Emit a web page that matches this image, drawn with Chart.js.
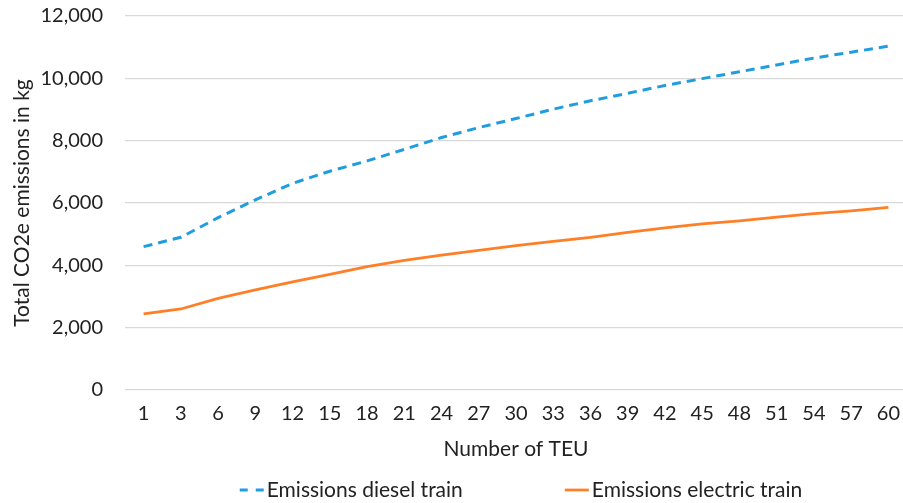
<!DOCTYPE html>
<html>
<head>
<meta charset="utf-8">
<script src="https://cdn.jsdelivr.net/npm/chart.js@4/dist/chart.umd.min.js"></script>
<style>
  html, body { margin: 0; padding: 0; background: #fff; overflow: hidden; }
  #wrap { width: 910px; height: 503px; }
</style>
</head>
<body>
<div id="wrap"><canvas id="c" width="910" height="503"></canvas></div>
<script>
// Number of TEU on the train
const teu = ['1','3','6','9','12','15','18','21','24','27','30','33','36','39','42','45','48','51','54','57','60'];
// Total CO2e emissions in kg
const dieselTrain = [4600, 4900, 5530, 6100, 6630, 7020, 7350, 7720, 8100, 8420, 8710, 9010, 9280, 9520, 9770, 9990, 10210, 10430, 10650, 10840, 11030];
const electricTrain = [2440, 2600, 2940, 3210, 3470, 3710, 3960, 4160, 4330, 4480, 4630, 4770, 4900, 5060, 5200, 5330, 5430, 5550, 5660, 5750, 5860];
const yTicks = [0, 2000, 4000, 6000, 8000, 10000, 12000];
const seriesNames = ['Emissions diesel train', 'Emissions electric train'];

const BLUE = '#1f9ddf';
const ORANGE = '#ff7f27';
const TEXT = '#222222';
const FONT = 'Lato, "Open Sans", sans-serif';

// Legend drawn under the x-axis title, line sample followed by the series name
const bottomLegend = {
  id: 'bottomLegend',
  afterDraw(chart) {
    const ctx = chart.ctx;
    ctx.save();
    ctx.font = '21px ' + FONT;
    ctx.textBaseline = 'middle';
    ctx.fillStyle = TEXT;
    const items = chart.data.datasets.map(ds => ({
      text: ds.label, color: ds.borderColor, dash: ds.borderDash || [], w: ds.borderWidth
    }));
    const sample = 24, sGap = 3, itemGap = 102;
    const widths = items.map(it => sample + sGap + ctx.measureText(it.text).width);
    const total = widths.reduce((a, b) => a + b, 0) + itemGap * (items.length - 1);
    let x = 521 - total / 2;
    const y = 490;
    items.forEach((it, i) => {
      ctx.beginPath();
      ctx.strokeStyle = it.color;
      ctx.lineWidth = it.w;
      ctx.setLineDash(it.dash.length ? [8, 8] : []);
      ctx.moveTo(x, y);
      ctx.lineTo(x + sample, y);
      ctx.stroke();
      ctx.setLineDash([]);
      ctx.fillText(it.text, x + sample + sGap, y);
      x += widths[i] + itemGap;
    });
    ctx.restore();
  }
};

new Chart(document.getElementById('c'), {
  type: 'line',
  data: {
    labels: teu,
    datasets: [
      {
        label: seriesNames[0],
        data: dieselTrain,
        borderColor: BLUE,
        backgroundColor: BLUE,
        borderWidth: 3,
        borderDash: [9, 6],
        pointRadius: 0,
        tension: 0,
        fill: false
      },
      {
        label: seriesNames[1],
        data: electricTrain,
        borderColor: ORANGE,
        backgroundColor: ORANGE,
        borderWidth: 2.75,
        pointRadius: 0,
        tension: 0,
        fill: false
      }
    ]
  },
  options: {
    responsive: false,
    animation: false,
    events: [],
    layout: { padding: { left: 0, right: 3, top: 16, bottom: 40 } },
    plugins: {
      legend: { display: false },
      tooltip: { enabled: false }
    },
    scales: {
      x: {
        offset: true,
        grid: { display: false, drawTicks: false },
        border: { display: false },
        ticks: {
          color: TEXT,
          font: { family: FONT, size: 20 },
          padding: 12,
          maxRotation: 0,
          autoSkip: false
        },
        title: {
          display: true,
          text: 'Number of TEU',
          color: TEXT,
          font: { family: FONT, size: 21 },
          padding: { top: 0, bottom: 1 }
        },
        afterFit(s) { s.height = 73; s.paddingLeft = 0; s.paddingRight = 0; }
      },
      y: {
        min: 0,
        max: 12000,
        afterBuildTicks(s) { s.ticks = yTicks.map(v => ({ value: v })); },
        grid: { color: '#d9d9d9', lineWidth: 1.3, drawTicks: false },
        border: { display: false },
        ticks: {
          color: TEXT,
          font: { family: FONT, size: 20 },
          padding: 22,
          callback: v => v.toLocaleString('en-US')
        },
        title: {
          display: true,
          text: 'Total CO2e emissions in kg',
          color: TEXT,
          font: { family: FONT, size: 21 },
          padding: { top: 10, bottom: 0 }
        },
        afterFit(s) { s.width = 125; s.paddingTop = 0; s.paddingBottom = 0; }
      }
    }
  },
  plugins: [bottomLegend]
});
</script>
</body>
</html>
